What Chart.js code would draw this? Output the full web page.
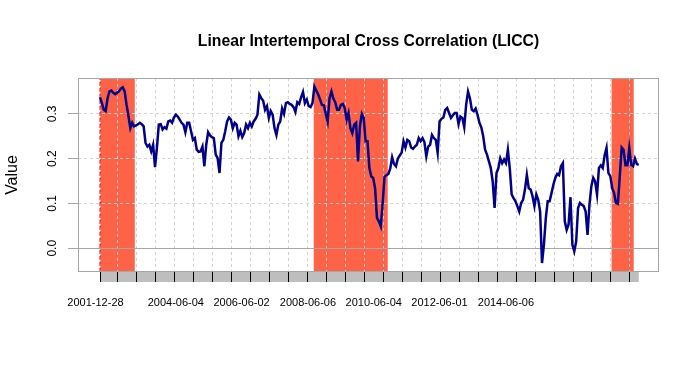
<!DOCTYPE html>
<html>
<head>
<meta charset="utf-8">
<title>LICC</title>
<script src="https://cdn.jsdelivr.net/npm/chart.js@4.4.1/dist/chart.umd.min.js"></script>
<style>
  body { margin: 0; background: #fff; }
  canvas { display: block; }
</style>
</head>
<body>
<canvas id="chart" width="700" height="370"></canvas>
<script>
// weekly series, one value every 3rd week starting 2001-12-28
var startDate = '2001-12-28';
var stepWeeks = 3;
var licc = [
  0.337, 0.324, 0.309, 0.306, 0.335, 0.350, 0.352, 0.347, 0.344, 0.347,
  0.350, 0.356, 0.359, 0.350, 0.320, 0.295, 0.268, 0.280, 0.272, 0.274,
  0.277, 0.280, 0.277, 0.272, 0.235, 0.227, 0.231, 0.216, 0.231, 0.181,
  0.224, 0.276, 0.277, 0.265, 0.270, 0.267, 0.283, 0.285, 0.280, 0.292,
  0.298, 0.294, 0.287, 0.280, 0.276, 0.259, 0.280, 0.280, 0.261, 0.242,
  0.246, 0.220, 0.215, 0.216, 0.227, 0.183, 0.231, 0.259, 0.252, 0.248,
  0.246, 0.209, 0.201, 0.168, 0.235, 0.242, 0.261, 0.283, 0.292, 0.287,
  0.268, 0.280, 0.276, 0.250, 0.262, 0.248, 0.257, 0.276, 0.268, 0.280,
  0.272, 0.283, 0.289, 0.298, 0.343, 0.335, 0.329, 0.309, 0.317, 0.291,
  0.306, 0.298, 0.268, 0.253, 0.276, 0.283, 0.312, 0.300, 0.324, 0.326,
  0.322, 0.320, 0.315, 0.304, 0.326, 0.322, 0.337, 0.349, 0.324, 0.332,
  0.317, 0.315, 0.324, 0.361, 0.352, 0.343, 0.332, 0.320, 0.319, 0.300,
  0.283, 0.335, 0.350, 0.334, 0.326, 0.309, 0.309, 0.320, 0.322, 0.313,
  0.287, 0.302, 0.268, 0.257, 0.276, 0.280, 0.194, 0.272, 0.300, 0.291,
  0.239, 0.239, 0.179, 0.160, 0.157, 0.134, 0.068, 0.060, 0.049, 0.101,
  0.160, 0.163, 0.166, 0.178, 0.203, 0.188, 0.183, 0.200, 0.207, 0.213,
  0.239, 0.225, 0.242, 0.239, 0.225, 0.222, 0.227, 0.231, 0.246, 0.239,
  0.246, 0.237, 0.205, 0.227, 0.231, 0.253, 0.246, 0.242, 0.213, 0.283,
  0.289, 0.292, 0.309, 0.313, 0.302, 0.291, 0.297, 0.302, 0.302, 0.277,
  0.294, 0.291, 0.270, 0.320, 0.350, 0.335, 0.309, 0.306, 0.312, 0.298,
  0.280, 0.270, 0.250, 0.220, 0.209, 0.194, 0.179, 0.149, 0.090, 0.168,
  0.179, 0.201, 0.190, 0.198, 0.190, 0.220, 0.179, 0.120, 0.112, 0.105,
  0.094, 0.082, 0.101, 0.108, 0.131, 0.164, 0.134, 0.131, 0.116, 0.094,
  0.120, 0.108, 0.082, -0.033, 0.008, 0.067, 0.105, 0.105, 0.123, 0.142,
  0.157, 0.166, 0.163, 0.183, 0.190, 0.060, 0.041, 0.053, 0.114, 0.008,
  -0.007, 0.015, 0.090, 0.101, 0.097, 0.094, 0.082, 0.030, 0.097, 0.138,
  0.157, 0.149, 0.120, 0.179, 0.185, 0.179, 0.207, 0.224, 0.168, 0.161,
  0.134, 0.123, 0.101, 0.099, 0.161, 0.225, 0.220, 0.185, 0.185, 0.224,
  0.186, 0.183, 0.200, 0.188, 0.186
];
var labelDates = ['2001-12-28', '2004-06-04', '2006-06-02', '2008-06-06',
                  '2010-06-04', '2012-06-01', '2014-06-06'];
var shadedPeriods = [['2001-12-28', '2003-01-17'],
                     ['2008-06-20', '2010-09-17'],
                     ['2017-06-30', '2018-03-02']];
var yTicks = [0, 0.1, 0.2, 0.3];
var firstMinorTick = 28;   // weeks
var minorTickEvery = 30;   // weeks

var yMin = -0.053, yMax = 0.380;
var xMin = -34.8, xMax = 884;

function weekOf(d) {
    return Math.round((Date.parse(d) - Date.parse(startDate)) / 6048e5);
}

var lastWeek = (licc.length - 1) * stepWeeks;
var points = licc.map(function (v, i) { return { x: i * stepWeeks, y: v }; });
var gridWeeks = [0];
for (var w = firstMinorTick; w <= lastWeek; w += minorTickEvery) gridWeeks.push(w);

var font = 'Liberation Sans, Arial, sans-serif';
var frameColor = '#A6A6A6';

var backdrop = {
    id: 'backdrop',
    beforeDraw: function (chart) {
        var ctx = chart.ctx, a = chart.chartArea, x = chart.scales.x;
        ctx.save();
        ctx.fillStyle = '#FF6347';
        shadedPeriods.forEach(function (p) {
            var x0 = x.getPixelForValue(weekOf(p[0]));
            var x1 = x.getPixelForValue(weekOf(p[1]));
            ctx.fillRect(x0, a.top, x1 - x0, a.bottom - a.top);
        });
        // grey time bar under the plot
        var b0 = x.getPixelForValue(0), b1 = x.getPixelForValue(lastWeek);
        ctx.fillStyle = '#BEBEBE';
        ctx.fillRect(b0, x.top, b1 - b0, x.bottom - x.top);
        ctx.restore();
    },
    afterDraw: function (chart) {
        var ctx = chart.ctx, a = chart.chartArea;
        ctx.save();
        ctx.strokeStyle = frameColor;
        ctx.lineWidth = 1;
        ctx.strokeRect(Math.round(a.left) + 0.5, Math.round(a.top) + 0.5,
                       Math.round(a.right - a.left) - 1, Math.round(a.bottom - a.top) - 1);
        ctx.restore();
    }
};

var ctx = document.getElementById('chart').getContext('2d');
var chart = new Chart(ctx, {
    type: 'line',
    data: {
        datasets: [{
            label: 'LICC',
            data: points,
            borderColor: '#00008B',
            borderWidth: 2.5,
            pointRadius: 0,
            tension: 0,
            fill: false,
            order: 0
        }, {
            label: 'start',
            data: [{ x: 0, y: yMin }, { x: 0, y: yMax }],
            borderColor: '#FF0000',
            borderWidth: 1,
            borderDash: [4, 2],
            pointRadius: 0,
            fill: false,
            order: 1
        }]
    },
    options: {
        responsive: false,
        devicePixelRatio: 1,
        animation: false,
        layout: { padding: { left: 0, right: 41, top: 0, bottom: 0 } },
        scales: {
            x: {
                type: 'linear',
                position: 'bottom',
                weight: 0,
                min: xMin,
                max: xMax,
                afterBuildTicks: function (s) {
                    s.ticks = gridWeeks.map(function (v) { return { value: v }; });
                },
                afterFit: function (s) { s.height = 10; },
                ticks: { display: false },
                grid: {
                    color: '#D3D3D3',
                    tickLength: 10,
                    tickColor: '#000000',
                    tickBorderDash: []
                },
                border: { display: false, dash: [3, 3] }
            },
            x2: {
                type: 'linear',
                position: 'bottom',
                weight: 1,
                min: xMin,
                max: xMax,
                afterBuildTicks: function (s) {
                    s.ticks = labelDates.map(function (d) { return { value: weekOf(d) }; });
                },
                afterFit: function (s) { s.height = 88; },
                grid: { display: false, drawTicks: false },
                border: { display: false },
                ticks: {
                    autoSkip: false,
                    maxRotation: 0,
                    padding: 14,
                    labelOffset: -4.5,
                    color: '#000',
                    font: { family: font, size: 11 },
                    callback: function (value, index) { return labelDates[index]; }
                }
            },
            y: {
                min: yMin,
                max: yMax,
                afterBuildTicks: function (s) {
                    s.ticks = yTicks.map(function (v) { return { value: v }; });
                },
                afterFit: function (s) { s.width = 78; },
                title: {
                    display: true,
                    text: 'Value',
                    color: '#000',
                    font: { family: font, size: 16 },
                    padding: { top: 3, bottom: 0 }
                },
                ticks: {
                    minRotation: 90,
                    maxRotation: 90,
                    crossAlign: 'center',
                    padding: 7,
                    color: '#000',
                    font: { family: font, size: 12 },
                    callback: function (v) { return v.toFixed(1); }
                },
                grid: {
                    color: function (c) { return c.tick && c.tick.value === 0 ? frameColor : '#D3D3D3'; },
                    tickLength: 10,
                    tickColor: frameColor,
                    tickBorderDash: []
                },
                border: {
                    display: false,
                    dash: function (c) { return c.tick && c.tick.value === 0 ? [] : [3, 3]; }
                }
            }
        },
        plugins: {
            legend: { display: false },
            tooltip: { enabled: false },
            title: {
                display: true,
                fullSize: false,
                text: 'Linear Intertemporal Cross Correlation (LICC)',
                color: '#000',
                font: { family: font, size: 15.75, weight: 'bold' },
                padding: { top: 32.25, bottom: 26.85 }
            }
        }
    },
    plugins: [backdrop]
});
</script>
</body>
</html>
